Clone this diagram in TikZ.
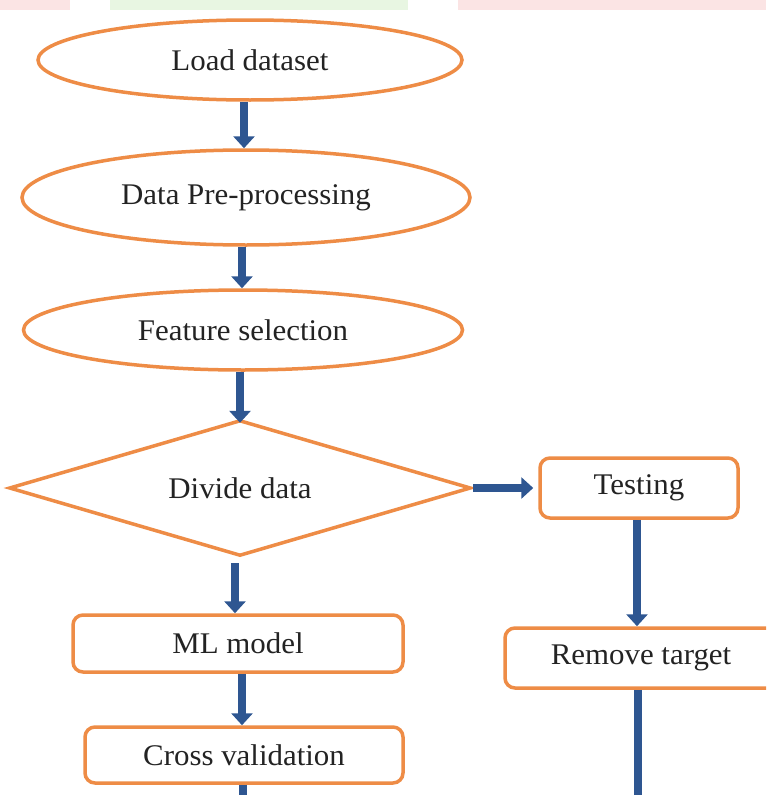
\documentclass[tikz,border=0pt]{standalone}
\usepackage{fontspec}
\setmainfont{Liberation Serif}[FakeStretch=1.03]
\usetikzlibrary{shapes.geometric,arrows.meta}
\definecolor{orng}{RGB}{238,140,70}
\definecolor{arrblue}{RGB}{46,86,145}
\definecolor{txt}{RGB}{35,35,35}
\definecolor{wmpink}{RGB}{251,228,228}
\definecolor{wmgreen}{RGB}{232,246,226}
\tikzset{
  base/.style={draw=orng, line width=3.5pt, fill=white, inner sep=0pt, text=txt,
    font=\fontsize{30}{32}\selectfont},
  oval/.style={base, ellipse},
  diatext/.style={inner sep=0pt, text=txt, font=\fontsize{30}{32}\selectfont},
  diaedge/.style={draw=orng, line width=3.5pt, line join=miter, fill=white},
  rbox/.style={base, rectangle, rounded corners=10pt},
  arr/.style={draw=arrblue, line width=8pt, -{Triangle[width=21pt,length=12pt]}},
  shaft/.style={draw=arrblue, line width=8pt}
}
\begin{document}
\begin{tikzpicture}[x=1pt,y=-1pt]
\clip (0,0) rectangle (766,795);
\fill[white] (0,0) rectangle (766,795);
% faint watermark strip at the top
\fill[wmpink] (0,0) rectangle (70,10);
\fill[wmgreen] (110,0) rectangle (408,10);
\fill[wmpink] (458,0) rectangle (766,10);

\node[oval, minimum width=424pt, minimum height=80pt] (e1) at (250,60) {Load dataset};
\node[oval, minimum width=448pt, minimum height=95pt] (e2) at (246,197.5) {Data Pre-processing};
\node[oval, minimum width=439pt, minimum height=80pt] (e3) at (243,330) {Feature selection};
\node[diatext, minimum width=460pt, minimum height=134pt] (d) at (240,488) {};
\draw[diaedge] (d.west) -- (d.north) -- (d.east) -- (d.south) -- cycle;
\node[diatext] at (d.center) {Divide data};
\node[rbox, minimum width=198pt, minimum height=60pt] (test) at (639,488) {Testing};
\node[rbox, minimum width=330pt, minimum height=57pt] (ml) at (238,643.5) {ML model};
\node[rbox, minimum width=318pt, minimum height=56pt] (cv) at (244,755) {Cross validation};
\node[rbox, minimum width=272pt, minimum height=60pt] (rt) at (641,658) {Remove target};
\coordinate (cvend) at (243,800);
\coordinate (rtend) at (638,800);

\draw[arr] ([xshift=-6pt]e1.south) -- ([xshift=-6pt]e1.south |- e2.north);
\draw[arr] ([xshift=-4pt]e2.south) -- ([xshift=-4pt]e2.south |- e3.north);
\draw[arr] ([xshift=-3pt]e3.south) -- ([xshift=-3pt,yshift=-2pt]e3.south |- d.north);
\draw[arr] ([xshift=-5pt,yshift=-8pt]d.south) -- ([xshift=-5pt]d.south |- ml.north);
\draw[arr] ([xshift=4pt]ml.south) -- ([xshift=4pt]ml.south |- cv.north);
\draw[arr] ([xshift=3pt]d.east) -- ([xshift=-5pt]test.west);
\draw[arr] ([xshift=-2pt]test.south) -- ([xshift=-2pt]test.south |- rt.north);
\draw[shaft] (cv.south -| cvend) -- (cvend);
\draw[shaft] (rt.south -| rtend) -- (rtend);
\end{tikzpicture}
\end{document}
